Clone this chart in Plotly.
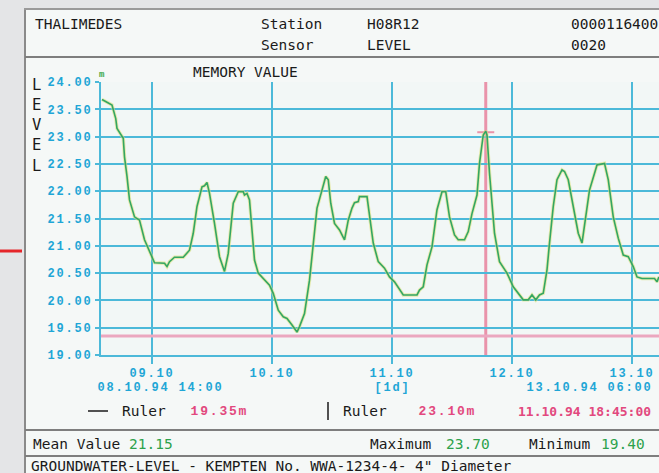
import plotly.graph_objects as go
import pandas as pd

# ---------------- data ----------------
times = [
    "1994-10-08 14:00", "1994-10-08 15:30", "1994-10-08 16:00", "1994-10-08 16:45", "1994-10-08 17:00",
    "1994-10-08 18:15", "1994-10-08 18:30", "1994-10-08 19:00", "1994-10-08 19:30", "1994-10-08 20:30",
    "1994-10-08 21:30", "1994-10-08 22:30", "1994-10-08 23:30", "1994-10-09 00:30", "1994-10-09 02:30",
    "1994-10-09 03:00", "1994-10-09 03:30", "1994-10-09 04:30", "1994-10-09 06:15", "1994-10-09 07:00",
    "1994-10-09 07:30", "1994-10-09 08:15", "1994-10-09 09:00", "1994-10-09 10:00", "1994-10-09 10:30",
    "1994-10-09 11:00", "1994-10-09 11:30", "1994-10-09 12:30", "1994-10-09 13:30", "1994-10-09 14:30",
    "1994-10-09 15:15", "1994-10-09 16:15", "1994-10-09 17:15", "1994-10-09 18:15", "1994-10-09 18:30",
    "1994-10-09 19:00", "1994-10-09 19:30", "1994-10-09 20:00", "1994-10-09 20:30", "1994-10-09 21:15",
    "1994-10-09 22:15", "1994-10-09 23:30", "1994-10-10 00:15", "1994-10-10 01:15", "1994-10-10 02:15",
    "1994-10-10 03:00", "1994-10-10 04:00", "1994-10-10 05:00", "1994-10-10 05:30", "1994-10-10 06:30",
    "1994-10-10 07:30", "1994-10-10 08:15", "1994-10-10 09:00", "1994-10-10 10:00", "1994-10-10 10:45",
    "1994-10-10 11:15", "1994-10-10 11:45", "1994-10-10 12:30", "1994-10-10 13:30", "1994-10-10 14:30",
    "1994-10-10 15:15", "1994-10-10 16:00", "1994-10-10 16:30", "1994-10-10 17:15", "1994-10-10 17:30",
    "1994-10-10 19:00", "1994-10-10 19:30", "1994-10-10 20:15", "1994-10-10 21:15", "1994-10-10 22:30",
    "1994-10-10 23:30", "1994-10-11 00:30", "1994-10-11 02:15", "1994-10-11 05:00", "1994-10-11 05:30",
    "1994-10-11 06:15", "1994-10-11 07:00", "1994-10-11 08:00", "1994-10-11 09:00", "1994-10-11 10:00",
    "1994-10-11 10:45", "1994-10-11 11:30", "1994-10-11 12:30", "1994-10-11 13:15", "1994-10-11 14:30",
    "1994-10-11 15:15", "1994-10-11 16:00", "1994-10-11 17:00", "1994-10-11 17:30", "1994-10-11 18:15",
    "1994-10-11 18:45", "1994-10-11 19:00", "1994-10-11 19:30", "1994-10-11 20:30", "1994-10-11 21:30",
    "1994-10-11 23:00", "1994-10-12 00:15", "1994-10-12 01:15", "1994-10-12 02:15", "1994-10-12 03:15",
    "1994-10-12 04:00", "1994-10-12 04:45", "1994-10-12 05:30", "1994-10-12 06:15", "1994-10-12 07:00",
    "1994-10-12 07:30", "1994-10-12 08:15", "1994-10-12 09:00", "1994-10-12 10:00", "1994-10-12 10:30",
    "1994-10-12 11:15", "1994-10-12 12:15", "1994-10-12 13:15", "1994-10-12 14:00", "1994-10-12 14:30",
    "1994-10-12 15:30", "1994-10-12 17:00", "1994-10-12 18:30", "1994-10-12 19:15", "1994-10-12 20:15",
    "1994-10-12 21:15", "1994-10-12 22:15", "1994-10-12 23:15", "1994-10-13 00:15", "1994-10-13 01:00",
    "1994-10-13 02:00", "1994-10-13 04:30", "1994-10-13 05:00", "1994-10-13 05:24",
]
levels = [
    23.68, 23.60, 23.58, 23.33, 23.15,
    22.97, 22.63, 22.27, 21.84, 21.53,
    21.47, 21.11, 20.89, 20.69, 20.68,
    20.62, 20.71, 20.79, 20.79, 20.87,
    20.92, 21.23, 21.72, 22.08, 22.10,
    22.16, 21.96, 21.41, 20.80, 20.53,
    20.86, 21.78, 21.99, 21.99, 21.93,
    21.96, 21.84, 21.29, 20.74, 20.50,
    20.40, 20.28, 20.13, 19.82, 19.70,
    19.67, 19.55, 19.42, 19.52, 19.76,
    20.37, 21.05, 21.69, 22.02, 22.27,
    22.21, 21.78, 21.41, 21.29, 21.11,
    21.47, 21.69, 21.79, 21.81, 21.90,
    21.90, 21.59, 21.05, 20.71, 20.59,
    20.43, 20.34, 20.10, 20.10, 20.19,
    20.25, 20.65, 20.98, 21.66, 21.99,
    21.99, 21.53, 21.20, 21.11, 21.11,
    21.26, 21.59, 21.93, 22.51, 23.03,
    23.10, 23.03, 22.33, 21.23, 20.71,
    20.50, 20.25, 20.13, 20.01, 20.01,
    20.10, 20.01, 20.10, 20.13, 20.56,
    21.05, 21.72, 22.21, 22.39, 22.36,
    22.21, 21.72, 21.23, 21.05, 21.35,
    22.02, 22.48, 22.51, 22.21, 21.53,
    21.14, 20.83, 20.80, 20.62, 20.43,
    20.40, 20.40, 20.34, 20.43,
]

y_ticks = [19.0, 19.5, 20.0, 20.5, 21.0, 21.5, 22.0, 22.5, 23.0, 23.5, 24.0]
y_tick_labels = ["19.00", "19.50", "20.00", "20.50", "21.00", "21.50",
                 "22.00", "22.50", "23.00", "23.50", "24.00"]
day_ticks = ["1994-10-09", "1994-10-10", "1994-10-11", "1994-10-12", "1994-10-13"]
day_labels = ["09.10", "10.10", "11.10", "12.10", "13.10"]
x_start = "1994-10-08 13:48"
x_end = "1994-10-13 05:24"

ruler_level = 19.35
ruler_time = "1994-10-11 18:45"
ruler_value = 23.10
mean_value = 21.15
max_value = 23.70
min_value = 19.40

# ---------------- layout helpers (pixel -> paper) ----------------
W, H = 659, 473
L, R, T, B = 101, 0, 82, 118
PW, PH = W - L - R, H - T - B
LS = 1.8  # letter spacing (px) for the display's pixel font


def px(x):
    return (x - L) / PW


def py(y):
    return (H - B - y) / PH


GRAY_BG = "#e4e5e7"
PANEL = "#f5f8f7"
PLOT_BG = "#f2f7f6"
CYAN = "#4cb9d9"
CYAN_TXT = "#1fa6d6"
GREEN = "#34a663"
GLOW = "#dfe27c"
PINK_LINE = "#eba7bf"
PINK_V = "#e993aa"
PINK_TXT = "#e2497e"
GREEN_TXT = "#2da24c"
BLACK = "#1a1a1a"
BORDER = "#8a8a8a"

MONO = "DejaVu Sans Mono"
PIX = "Liberation Mono"

fig = go.Figure()
fig.add_trace(go.Scatter(x=times, y=levels, mode="lines",
                         line=dict(color=GLOW, width=3.4), opacity=0.6,
                         hoverinfo="skip", showlegend=False))
fig.add_trace(go.Scatter(x=times, y=levels, mode="lines",
                         line=dict(color=GREEN, width=1.6),
                         name="Level", showlegend=False))

shapes = []
# outer grey surround
shapes.append(dict(type="rect", xref="paper", yref="paper", x0=px(0), x1=px(24), y0=py(H), y1=py(0),
                   fillcolor=GRAY_BG, line=dict(width=0), layer="below"))
shapes.append(dict(type="rect", xref="paper", yref="paper", x0=px(0), x1=px(W), y0=py(8), y1=py(0),
                   fillcolor=GRAY_BG, line=dict(width=0), layer="below"))
# red mark outside the panel
shapes.append(dict(type="line", xref="paper", yref="paper", x0=px(0), x1=px(22), y0=py(251), y1=py(251),
                   line=dict(color="#e5262b", width=3)))
# panel borders
shapes.append(dict(type="line", xref="paper", yref="paper", x0=px(25), x1=px(25), y0=py(8), y1=py(H),
                   line=dict(color=BORDER, width=2)))
shapes.append(dict(type="line", xref="paper", yref="paper", x0=px(24), x1=px(W), y0=py(9), y1=py(9),
                   line=dict(color="#9a9a9a", width=2)))
for yy in (57, 430, 456):
    shapes.append(dict(type="line", xref="paper", yref="paper", x0=px(25), x1=px(W), y0=py(yy), y1=py(yy),
                       line=dict(color="#7e7e7e", width=2)))
# rulers
shapes.append(dict(type="line", xref="x", yref="y", x0=x_start, x1=x_end, y0=ruler_level, y1=ruler_level,
                   line=dict(color=PINK_LINE, width=3), layer="between"))
shapes.append(dict(type="line", xref="x", yref="paper", x0=ruler_time, x1=ruler_time, y0=0, y1=1,
                   line=dict(color=PINK_V, width=3), layer="between"))
rt = pd.Timestamp(ruler_time)
shapes.append(dict(type="line", xref="x", yref="y",
                   x0=(rt - pd.Timedelta(hours=1.7)).strftime("%Y-%m-%d %H:%M"),
                   x1=(rt + pd.Timedelta(hours=1.7)).strftime("%Y-%m-%d %H:%M"),
                   y0=ruler_value - 0.02, y1=ruler_value - 0.02,
                   line=dict(color=PINK_V, width=2), layer="between"))
# legend glyphs in ruler row
shapes.append(dict(type="line", xref="paper", yref="paper", x0=px(88), x1=px(108), y0=py(411), y1=py(411),
                   line=dict(color=BLACK, width=1.5)))
shapes.append(dict(type="line", xref="paper", yref="paper", x0=px(328), x1=px(328), y0=py(402), y1=py(420),
                   line=dict(color=BLACK, width=1.5)))

ann = []


def text(x, y, s, size=14.5, color=BLACK, family=MONO, xanchor="left", weight="normal"):
    # letter-spaced texts grow symmetrically inside the annotation box; compensate
    if family == PIX and xanchor == "left":
        x = x + len(s) * LS / 2
    ann.append(dict(xref="paper", yref="paper", x=px(x), y=py(y), text=s, showarrow=False,
                    xanchor=xanchor, yanchor="middle",
                    font=dict(family=family, size=size, color=color, weight=weight)))


text(33, 24, "THALIMEDES")
text(259, 24, "Station")
text(259, 45, "Sensor")
text(365, 24, "H08R12")
text(365, 45, "LEVEL")
text(569, 24, "0000116400")
text(569, 45, "0020")
text(191, 72, "MEMORY VALUE")
ann.append(dict(xref="paper", yref="paper", x=px(36), y=py(125), text="L<br>E<br>V<br>E<br>L",
                showarrow=False, xanchor="center", yanchor="middle",
                font=dict(family=MONO, size=15.5, color=BLACK)))
text(97, 75, "m", size=9, color="#3aa84a", family=PIX, weight="bold")
# second row of time labels
text(95, 388, "08.10.94 14:00", size=12, color=CYAN_TXT, family=PIX, weight="bold")
text(392, 388, "[1d]", size=12, color=CYAN_TXT, family=PIX, weight="bold", xanchor="center")
text(524, 388, "13.10.94 06:00", size=12, color=CYAN_TXT, family=PIX, weight="bold")
# ruler row
text(120, 411, "Ruler")
text(189, 411, f"{ruler_level:.2f}m", size=13, color=PINK_TXT, family=PIX, weight="bold")
text(341, 411, "Ruler")
text(417, 411, f"{ruler_value:.2f}m", size=13, color=PINK_TXT, family=PIX, weight="bold")
text(516, 411, rt.strftime("%d.%m.%y %H:%M:%S"), size=13, color=PINK_TXT, family=MONO, weight="bold")
# statistics row
text(31, 444, "Mean Value")
text(127, 444, f"{mean_value:.2f}", color=GREEN_TXT)
text(368, 444, "Maximum")
text(444, 444, f"{max_value:.2f}", color=GREEN_TXT)
text(527, 444, "Minimum")
text(599, 444, f"{min_value:.2f}", color=GREEN_TXT)
text(29, 466, 'GROUNDWATER-LEVEL - KEMPTEN No. WWA-1234-4- 4" Diameter')

fig.update_layout(
    width=W, height=H,
    margin=dict(l=L, r=R, t=T, b=B, autoexpand=False),
    paper_bgcolor=PANEL, plot_bgcolor=PLOT_BG,
    shapes=shapes, annotations=ann, showlegend=False,
)
fig.update_xaxes(
    type="date", range=[x_start, x_end],
    tickvals=day_ticks, ticktext=day_labels,
    showgrid=True, gridcolor=CYAN, gridwidth=2,
    showline=True, linecolor=CYAN, linewidth=2,
    ticks="outside", ticklen=7, tickcolor=CYAN, tickwidth=2,
    tickfont=dict(family=PIX, size=12, color=CYAN_TXT, weight="bold"),
    ticklabelstandoff=-1, zeroline=False, automargin=False,
)
fig.update_yaxes(
    range=[19.0, 24.0], tickvals=y_ticks, ticktext=y_tick_labels,
    showgrid=True, gridcolor=CYAN, gridwidth=2,
    showline=True, linecolor=CYAN, linewidth=2,
    ticks="outside", ticklen=4, tickcolor=CYAN, tickwidth=2,
    tickfont=dict(family=PIX, size=12, color=CYAN_TXT, weight="bold"),
    zeroline=False, automargin=False,
)

post = """
document.body.style.margin = '0';
var gd = document.getElementById('{plot_id}');
gd.querySelectorAll('text').forEach(function(t){
  var f = t.style.fontFamily || '';
  if (f.indexOf('Liberation Mono') >= 0) { t.style.letterSpacing = '%spx'; }
});
""" % LS

fig.write_html("out.html", config={"responsive": False, "displayModeBar": False}, post_script=post)
